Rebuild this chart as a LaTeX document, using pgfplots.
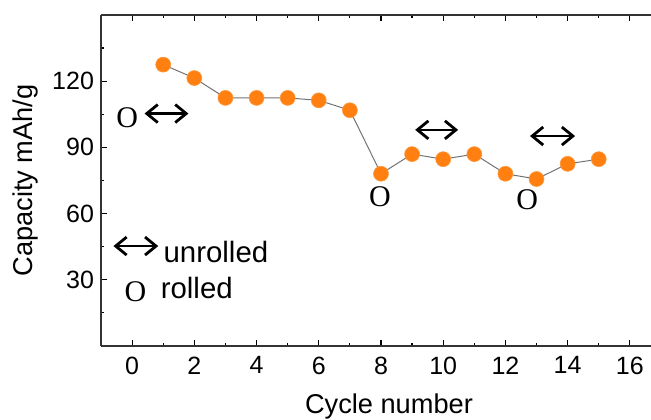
\documentclass[border=0pt]{standalone}
\usepackage{pgfplots}
\pgfplotsset{compat=1.18}
\usepackage{fontspec}
\setmainfont{Liberation Sans}
\newfontfamily\seriffont{Liberation Serif}
\usetikzlibrary{arrows.meta,calc}
\definecolor{dotorange}{RGB}{255,128,16}
\begin{document}
\begin{tikzpicture}
\begin{axis}[name=ax, scale only axis, width=275pt, height=165.35pt,
 xmin=-1, xmax=16.68, ymin=0, ymax=150,
 axis x line*=box, axis y line*=left,
 xtick={0,2,...,16}, minor xtick={1,3,...,15},
 ytick={30,60,90,120}, minor ytick={15,45,...,135},
 tick align=inside, major tick length=3pt, minor tick length=1.5pt,
 tick style={black, line width=0.6pt},
 axis line style={line width=0.8pt, color=black!80, -},
 ticklabel style={font=\fontsize{12.5}{14}\selectfont},
 /pgf/number format/assume math mode=true,
 xticklabel style={yshift=-2pt},
 xlabel={Cycle number}, ylabel={Capacity mAh/g},
 label style={font=\fontsize{13.6}{16}\selectfont},
 xlabel style={at={(rel axis cs:0.5236,-0.1845)}, anchor=center},
 ylabel style={at={(rel axis cs:-0.138,0.5)}, anchor=center},
 clip=false]
\addplot[color=gray!90!black, line width=0.5pt, mark=*, mark size=3.75pt,
  mark options={fill=dotorange, draw=dotorange!80!white, line width=0.3pt}]
 coordinates {(1,127.5) (2,121.4) (3,112.4) (4,112.4) (5,112.4) (6,111.3) (7,106.8)
 (8,78.0) (9,86.9) (10,84.6) (11,86.9) (12,78.0) (13,75.6) (14,82.5) (15,84.6)};
\tikzset{dbl/.style={line width=1.2pt, {Straight Barb[length=5.5pt,width=9pt,line width=1.4pt]}-{Straight Barb[length=5.5pt,width=9pt,line width=1.4pt]}}}
\draw[dbl] (axis cs:0.40,105.3) -- (axis cs:1.81,105.3);
\draw[dbl] (axis cs:9.10,97.9) -- (axis cs:10.48,97.9);
\draw[dbl] (axis cs:12.79,95.1) -- (axis cs:14.24,95.1);
\draw[dbl] (axis cs:-0.60,45.2) -- (axis cs:0.84,45.2);
\node[font=\seriffont\fontsize{15}{18}\selectfont, inner sep=0pt] at (axis cs:-0.16,103.5) {O};
\node[font=\seriffont\fontsize{15}{18}\selectfont, inner sep=0pt] at (axis cs:7.97,67.8) {O};
\node[font=\seriffont\fontsize{15}{18}\selectfont, inner sep=0pt] at (axis cs:12.70,66.3) {O};
\node[font=\seriffont\fontsize{15}{18}\selectfont, inner sep=0pt] at (axis cs:0.11,24.6) {O};
\node[anchor=base west, inner sep=0pt, font=\fontsize{14.7}{17}\selectfont] at (axis cs:1.0,37.8) {unrolled};
\node[anchor=base west, inner sep=0pt, font=\fontsize{14.7}{17}\selectfont] at (axis cs:0.91,21.3) {rolled};
\end{axis}
\pgfresetboundingbox
\path ($(ax.south west)+(-50.5pt,-36.65pt)$) rectangle ($(ax.north east)+(0pt,7.5pt)$);
\end{tikzpicture}
\end{document}
